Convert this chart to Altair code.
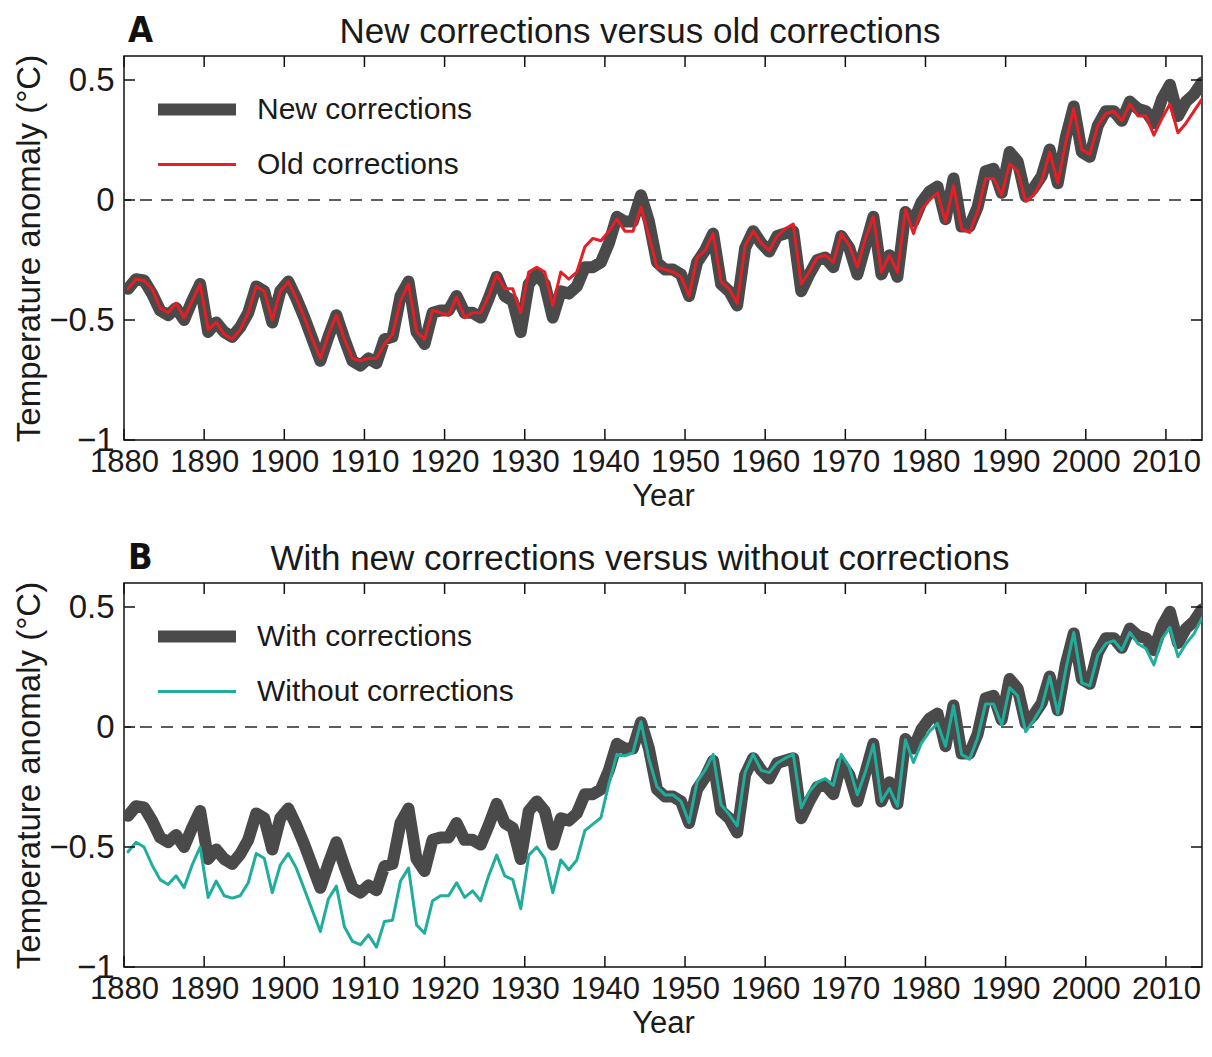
import altair as alt
import pandas as pd

YEARS = list(range(1880, 2015))

NEW = [
    -0.37, -0.33, -0.335, -0.39, -0.46, -0.48, -0.45, -0.50, -0.42, -0.35,
    -0.55, -0.51, -0.55, -0.57, -0.53, -0.47, -0.36, -0.38, -0.51, -0.38,
    -0.34, -0.41, -0.49, -0.58, -0.67, -0.57, -0.48, -0.58, -0.67, -0.69,
    -0.66, -0.68, -0.58, -0.57, -0.40, -0.34, -0.55, -0.60, -0.47, -0.46,
    -0.46, -0.40, -0.47, -0.47, -0.49, -0.41, -0.32, -0.40, -0.42, -0.55,
    -0.35, -0.31, -0.35, -0.49, -0.38, -0.39, -0.36, -0.28, -0.28, -0.26,
    -0.18, -0.07, -0.09, -0.09, 0.02, -0.09, -0.26, -0.29, -0.29, -0.31,
    -0.40, -0.26, -0.21, -0.14, -0.35, -0.38, -0.44, -0.20, -0.13, -0.18,
    -0.215, -0.15, -0.14, -0.13, -0.38, -0.31, -0.25, -0.24, -0.28, -0.15,
    -0.20, -0.31, -0.19, -0.07, -0.31, -0.23, -0.32, -0.05, -0.09, -0.01,
    0.035, 0.056, -0.08, 0.09, -0.11, -0.11, -0.03, 0.12, 0.13, 0.03,
    0.20, 0.16, 0.015, 0.05, 0.10, 0.21, 0.07, 0.26, 0.39, 0.20,
    0.18, 0.31, 0.37, 0.37, 0.33, 0.41, 0.38, 0.37, 0.32, 0.42,
    0.48, 0.35, 0.41, 0.44, 0.49,
]

OLD = [
    -0.37, -0.33, -0.335, -0.37, -0.45, -0.47, -0.43, -0.49, -0.42, -0.35,
    -0.54, -0.51, -0.56, -0.58, -0.54, -0.47, -0.36, -0.38, -0.50, -0.38,
    -0.34, -0.41, -0.49, -0.58, -0.66, -0.56, -0.48, -0.58, -0.66, -0.67,
    -0.66, -0.66, -0.60, -0.56, -0.42, -0.35, -0.55, -0.58, -0.46, -0.47,
    -0.48, -0.405, -0.49, -0.47, -0.47, -0.40, -0.31, -0.37, -0.37, -0.47,
    -0.30, -0.28, -0.30, -0.44, -0.30, -0.33, -0.30, -0.195, -0.16, -0.17,
    -0.13, -0.08, -0.13, -0.13, -0.03, -0.15, -0.28, -0.29, -0.30, -0.32,
    -0.40, -0.24, -0.21, -0.14, -0.34, -0.37, -0.43, -0.19, -0.13, -0.18,
    -0.21, -0.15, -0.12, -0.10, -0.35, -0.30, -0.24, -0.23, -0.26, -0.14,
    -0.19, -0.28, -0.16, -0.07, -0.30, -0.23, -0.30, -0.04, -0.14, -0.04,
    0.0, 0.03, -0.09, 0.06, -0.12, -0.135, -0.05, 0.09, 0.09, 0.02,
    0.15, 0.12, -0.005, 0.02, 0.08, 0.20, 0.07, 0.24, 0.38, 0.21,
    0.19, 0.31, 0.36, 0.37, 0.33, 0.40, 0.35, 0.35, 0.27, 0.34,
    0.40, 0.28, 0.32, 0.37, 0.42,
]

WITHOUT = [
    -0.52, -0.48, -0.50, -0.575, -0.636, -0.656, -0.62, -0.669, -0.575, -0.50,
    -0.71, -0.642, -0.703, -0.713, -0.703, -0.649, -0.527, -0.547, -0.69, -0.575,
    -0.527, -0.588, -0.676, -0.764, -0.852, -0.717, -0.663, -0.832, -0.893, -0.907,
    -0.866, -0.917, -0.81, -0.805, -0.642, -0.588, -0.825, -0.859, -0.724, -0.703,
    -0.703, -0.649, -0.71, -0.683, -0.724, -0.62, -0.534, -0.62, -0.636, -0.757,
    -0.534, -0.50, -0.547, -0.69, -0.554, -0.595, -0.554, -0.432, -0.405, -0.378,
    -0.236, -0.114, -0.12, -0.107, 0.022, -0.134, -0.249, -0.283, -0.283, -0.31,
    -0.398, -0.229, -0.18, -0.114, -0.324, -0.364, -0.412, -0.188, -0.114, -0.18,
    -0.19, -0.15, -0.13, -0.114, -0.337, -0.27, -0.23, -0.215, -0.243, -0.114,
    -0.168, -0.283, -0.188, -0.073, -0.31, -0.256, -0.33, -0.053, -0.148, -0.066,
    -0.019, 0.015, -0.08, 0.089, -0.114, -0.134, -0.046, 0.096, 0.096, 0.008,
    0.164, 0.13, -0.019, 0.028, 0.083, 0.211, 0.056, 0.238, 0.394, 0.184,
    0.171, 0.30, 0.347, 0.36, 0.32, 0.394, 0.347, 0.327, 0.259, 0.367,
    0.415, 0.293, 0.347, 0.388, 0.455,
]

X_TICKS = [1880, 1890, 1900, 1910, 1920, 1930, 1940, 1950, 1960, 1970, 1980, 1990, 2000, 2010]
Y_TICKS = [-1, -0.5, 0, 0.5]

W, H = 1078, 384
TICK = 11
FONT = "Liberation Sans, Arial, Helvetica, sans-serif"
TXT = "#1a1a1a"


def panel(letter, title, main_name, other_name, other_vals, other_color):
    df = pd.DataFrame({
        "year": YEARS + YEARS,
        "value": NEW + other_vals,
        "series": [main_name] * len(YEARS) + [other_name] * len(YEARS),
    })
    domain = [main_name, other_name]
    xs = alt.Scale(domain=[1880, 2014.5], nice=False, zero=False)
    ys = alt.Scale(domain=[-1, 0.6], nice=False, zero=False)
    xa = alt.Axis(values=X_TICKS, title="Year", format="d", labelFlush=False,
                  labelOverlap=False, ticks=False, domain=False, grid=False,
                  labelFontSize=31, titleFontSize=31, labelPadding=7, titlePadding=4,
                  labelColor=TXT, titleColor=TXT, labelFont=FONT, titleFont=FONT,
                  titleFontWeight="normal")
    ya = alt.Axis(values=Y_TICKS, title="Temperature anomaly (°C)", format="~g",
                  labelOverlap=False, ticks=False, domain=False, grid=False,
                  labelFontSize=33, titleFontSize=33, labelPadding=10, titlePadding=2,
                  labelColor=TXT, titleColor=TXT, labelFont=FONT, titleFont=FONT,
                  titleFontWeight="normal")
    leg = alt.Legend(title=None, orient="none", legendX=28, legendY=27,
                     symbolType="stroke", symbolSize=6084, clipHeight=53, rowPadding=2,
                     labelFontSize=30, labelFont=FONT, labelColor=TXT, labelLimit=600,
                     labelOffset=15, padding=0, symbolOpacity=1)
    color = alt.Color("series:N", scale=alt.Scale(domain=domain, range=["#4a4a4a", other_color]),
                      legend=leg)
    sw = alt.StrokeWidth("series:N", scale=alt.Scale(domain=domain, range=[12, 3]), legend=leg)

    base = alt.Chart(df).transform_calculate(xpos="datum.year + 0.5")
    enc = dict(x=alt.X("xpos:Q", scale=xs, axis=xa),
               y=alt.Y("value:Q", scale=ys, axis=ya),
               color=color, strokeWidth=sw)
    thick = base.transform_filter(alt.datum.series == main_name).mark_line(
        strokeJoin="round", strokeCap="round", clip=True).encode(**enc)
    thin = base.transform_filter(alt.datum.series == other_name).mark_line(
        strokeJoin="round", strokeCap="round", clip=True).encode(**enc)

    zero = alt.Chart(pd.DataFrame({"z": [0]})).mark_rule(
        strokeDash=[12, 9], color="#5c5c5c", strokeWidth=2).encode(
        y=alt.Y("z:Q", scale=ys, axis=ya))

    xt = alt.Chart(pd.DataFrame({"t": X_TICKS}))
    yt = alt.Chart(pd.DataFrame({"t": Y_TICKS}))
    rule = dict(color="#111111", strokeWidth=1.5)
    xt_b = xt.mark_rule(**rule).encode(x=alt.X("t:Q", scale=xs, axis=xa),
                                       y=alt.value(H), y2=alt.value(H - TICK))
    xt_t = xt.mark_rule(**rule).encode(x=alt.X("t:Q", scale=xs, axis=xa),
                                       y=alt.value(0), y2=alt.value(TICK))
    yt_l = yt.mark_rule(**rule).encode(y=alt.Y("t:Q", scale=ys, axis=ya),
                                       x=alt.value(0), x2=alt.value(TICK))
    yt_r = yt.mark_rule(**rule).encode(y=alt.Y("t:Q", scale=ys, axis=ya),
                                       x=alt.value(W), x2=alt.value(W - TICK))

    lbl = alt.Chart(pd.DataFrame({"lbl": [letter]})).mark_text(
        align="left", baseline="alphabetic", fontSize=36, fontWeight="bold",
        font="Liberation Sans Narrow, DejaVu Sans Condensed, Liberation Sans, sans-serif",
        color="#111111").encode(text="lbl:N", x=alt.value(4), y=alt.value(-14))

    ttl = alt.Chart(pd.DataFrame({"ttl": [title]})).mark_text(
        align="center", baseline="alphabetic", fontSize=35, font=FONT,
        color=TXT).encode(text="ttl:N", x=alt.value(516), y=alt.value(-13))

    return alt.layer(zero, thick, thin, xt_b, xt_t, yt_l, yt_r, lbl, ttl).properties(
        width=W, height=H)


a = panel("A", "New corrections versus old corrections",
          "New corrections", "Old corrections", OLD, "#e41f26")
b = panel("B", "With new corrections versus without corrections",
          "With corrections", "Without corrections", WITHOUT, "#21ad9c")

chart = alt.vconcat(a, b, spacing=27).properties(
    padding={"left": 5, "top": 4, "right": 0, "bottom": 0}
).configure_view(stroke="#111111", strokeWidth=1.5).resolve_scale(color="independent", strokeWidth="independent")

chart.save("out.html", embed_options={"renderer": "svg", "actions": False})
